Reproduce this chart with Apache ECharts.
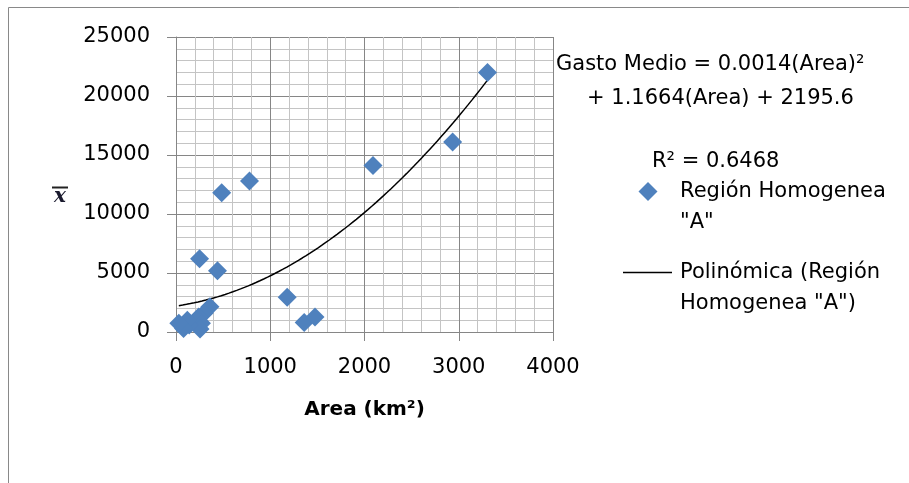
<!DOCTYPE html>
<html><head><meta charset="utf-8">
<script src="https://cdn.jsdelivr.net/npm/echarts@6/dist/echarts.min.js"></script>
<style>html,body{margin:0;padding:0;background:#fff}#c{width:909px;height:483px}</style>
</head><body><div id="c"></div>
<script>
// ---- data ----
const areaKm2    = [3305, 2935, 2090, 780, 485, 250, 440, 1180, 1360, 1475, 360, 300, 240, 270, 255, 140, 120, 80, 30];
const gastoMedio = [22000, 16100, 14100, 12800, 11800, 6200, 5200, 2950, 800, 1270, 2150, 1600, 1270, 750, 250, 600, 1000, 300, 750];
const trendCoefs = [0.0014, 1.1664, 2195.6]; // a*x^2 + b*x + c (from the chart's equation)
const seriesNames = ['Región Homogenea "A"', 'Polinómica (Región Homogenea "A")'];
const equationLines = ['Gasto Medio = 0.0014(Area)²', '+ 1.1664(Area) + 2195.6', 'R² = 0.6468'];
const xAxisTitle = 'Area (km²)';
const xRange = [0, 4000, 1000];
const yRange = [0, 25000, 5000];

const points = areaKm2.map((x, i) => [x, gastoMedio[i]]);
const xMin = Math.min(...areaKm2), xMax = Math.max(...areaKm2);
const trend = [];
for (let k = 0; k <= 80; k++) {
  const x = xMin + (xMax - xMin) * k / 80;
  trend.push([x, trendCoefs[0] * x * x + trendCoefs[1] * x + trendCoefs[2]]);
}

const FONT = 'DejaVu Sans';
const FS = 21;
const F = FS + 'px "' + FONT + '"';
const chart = echarts.init(document.getElementById('c'), null, {renderer: 'canvas'});
const major = {lineStyle: {color: '#868686', width: 1}};
const minor = {lineStyle: {color: '#c4c4c4', width: 1}};
const plain = v => String(v);
const txt = (x, y, s) => ({type: 'text', x: x, y: y, style: {text: s, font: F, fill: '#000', textAlign: 'left', textVerticalAlign: 'middle', verticalAlign: 'middle'}});
chart.setOption({
  animation: false,
  backgroundColor: '#fff',
  grid: {left: 176, top: 37, width: 377, height: 295, containLabel: false},
  xAxis: {
    type: 'value', min: xRange[0], max: xRange[1], interval: xRange[2],
    name: xAxisTitle, nameLocation: 'middle', nameGap: 68,
    nameTextStyle: {fontFamily: FONT, fontSize: 20, fontWeight: 'bold', color: '#000'},
    axisLine: {show: true, lineStyle: {color: '#868686'}},
    axisTick: {show: true, inside: false, length: 9, lineStyle: {color: '#868686'}},
    axisLabel: {fontFamily: FONT, fontSize: FS, color: '#000', margin: 25, formatter: plain},
    splitLine: Object.assign({show: true}, major),
    minorTick: {show: false, splitNumber: 5},
    minorSplitLine: Object.assign({show: true}, minor)
  },
  yAxis: {
    type: 'value', min: yRange[0], max: yRange[1], interval: yRange[2],
    axisLine: {show: true, lineStyle: {color: '#868686'}},
    axisTick: {show: true, inside: false, length: 9, lineStyle: {color: '#868686'}},
    axisLabel: {fontFamily: FONT, fontSize: FS, color: '#000', margin: 26, formatter: plain},
    splitLine: Object.assign({show: true}, major),
    minorTick: {show: false, splitNumber: 5},
    minorSplitLine: Object.assign({show: true}, minor)
  },
  series: [
    {
      name: seriesNames[1], type: 'line', data: trend, showSymbol: false, symbol: 'none',
      smooth: false, lineStyle: {color: '#000', width: 1.5}, z: 2
    },
    {
      name: seriesNames[0], type: 'scatter', data: points, symbol: 'diamond', symbolSize: 19,
      itemStyle: {color: '#4F81BD', opacity: 1}, z: 3
    }
  ],
  graphic: [
    {type: 'rect', shape: {x: 8.5, y: 7.5, width: 1200, height: 1200},
     style: {fill: 'none', stroke: '#898989', lineWidth: 1}, silent: true},
    txt(556, 65, equationLines[0]),
    txt(587, 99, equationLines[1]),
    txt(652, 162, equationLines[2]),
    // legend
    {type: 'polygon', shape: {points: [[648, 182], [657.5, 191.5], [648, 201], [638.5, 191.5]]}, style: {fill: '#4F81BD'}},
    txt(680, 192, 'Región Homogenea'),
    txt(680, 223, '"A"'),
    {type: 'line', shape: {x1: 623, y1: 272.5, x2: 672, y2: 272.5}, style: {stroke: '#000', lineWidth: 1.5}},
    txt(680, 273, 'Polinómica (Región'),
    txt(680, 304, 'Homogenea "A")'),
    // y axis title: x-bar
    {type: 'text', x: 60, y: 197, style: {text: 'x', font: 'italic bold 20px "DejaVu Serif"', fill: '#1a1a2e', textAlign: 'center', textVerticalAlign: 'middle', verticalAlign: 'middle'}},
    {type: 'line', shape: {x1: 52, y1: 187.5, x2: 68, y2: 187.5}, style: {stroke: '#222', lineWidth: 2}}
  ]
});
</script>
</body></html>
